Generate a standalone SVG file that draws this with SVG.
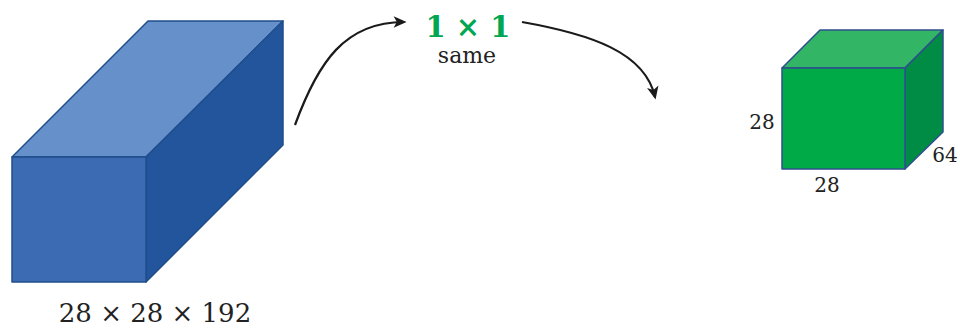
<svg xmlns="http://www.w3.org/2000/svg" width="960" height="329" viewBox="0 0 960 329">
<defs>
<marker id="ah" viewBox="0 0 10 10" refX="8" refY="5" markerWidth="15" markerHeight="13" markerUnits="userSpaceOnUse" orient="auto">
<path d="M0,0.5 L10,5 L0,9.5 L2.5,5 Z" fill="#1a1a1a"/>
</marker>
<style>
.t{fill:#222}
.b{stroke:#1f4e8c;stroke-width:1.5;stroke-linejoin:round}
.g{stroke:#2e4f8f;stroke-width:1.5;stroke-linejoin:round}
.c{fill:none;stroke:#1a1a1a;stroke-width:2.2}
</style>
</defs>
<rect width="960" height="329" fill="#ffffff"/>
<g id="input-volume">
<polygon class="b" points="12,157 148,21 283,21 146,157" fill="#6690c9"/>
<polygon class="b" points="146,157 283,21 283,145 146,282" fill="#22559c"/>
<rect class="b" x="12" y="157" width="134" height="125" fill="#3d6bb3"/>
<text class="t" x="155" y="322" font-size="26" text-anchor="middle" font-family="DejaVu Serif, serif">28 × 28 × 192</text>
</g>
<g id="conv-label">
<text x="468" y="37" font-size="29" font-weight="bold" text-anchor="middle" font-family="DejaVu Serif, serif" fill="#00a651">1 × 1</text>
<text class="t" x="467" y="63" font-size="22" text-anchor="middle" font-family="DejaVu Serif, serif">same</text>
</g>
<g id="output-volume">
<polygon class="g" points="782,68 820,30 943,30 905,68" fill="#33b566"/>
<polygon class="g" points="905,68 943,30 943,132 905,169" fill="#008c45"/>
<rect class="g" x="782" y="68" width="123" height="101" fill="#00ab47"/>
<text class="t" x="762" y="129" font-size="20" text-anchor="middle" font-family="DejaVu Serif, serif">28</text>
<text class="t" x="827" y="192" font-size="20" text-anchor="middle" font-family="DejaVu Serif, serif">28</text>
<text class="t" x="945" y="162" font-size="20" text-anchor="middle" font-family="DejaVu Serif, serif">64</text>
</g>
<g id="connectors">
<path class="c" d="M295,125 C318,62 345,22 404,22" marker-end="url(#ah)"/>
<path class="c" d="M522,22 C590,34 645,52 655,97" marker-end="url(#ah)"/>
</g>
</svg>
